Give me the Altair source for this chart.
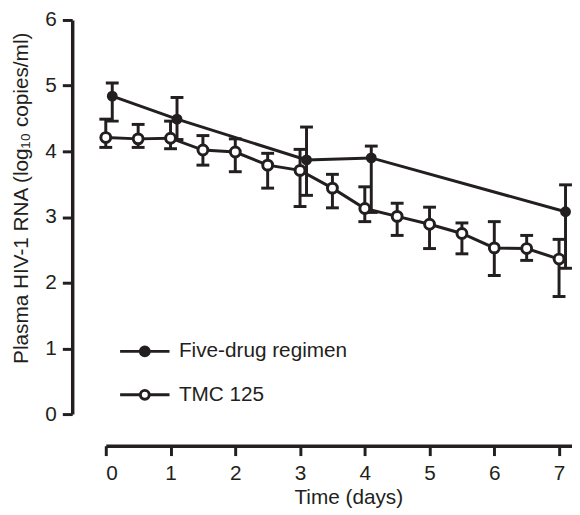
import altair as alt
import pandas as pd

# Five-drug regimen (filled circles)
five_t = [0.1, 1.1, 3.1, 4.1, 7.1]
five_v = [4.84, 4.49, 3.87, 3.90, 3.08]
five_lo = [4.46, 4.18, 3.33, 3.07, 2.22]
five_hi = [5.04, 4.82, 4.37, 4.08, 3.49]

# TMC 125 (open circles)
tmc_t = [0, 0.5, 1, 1.5, 2, 2.5, 3, 3.5, 4, 4.5, 5, 5.5, 6, 6.5, 7]
tmc_v = [4.21, 4.19, 4.20, 4.02, 3.99, 3.79, 3.71, 3.44, 3.13, 3.01, 2.89, 2.75, 2.53, 2.52, 2.36]
tmc_lo = [4.06, 4.06, 4.04, 3.79, 3.69, 3.44, 3.16, 3.14, 2.93, 2.72, 2.52, 2.44, 2.11, 2.34, 1.79]
tmc_hi = [4.49, 4.41, 4.46, 4.24, 4.19, 3.97, 4.03, 3.65, 3.46, 3.21, 3.15, 2.91, 2.93, 2.72, 2.66]

series_names = ["Five-drug regimen", "TMC 125"]
x_ticks = [0, 1, 2, 3, 4, 5, 6, 7]
y_ticks = [0, 1, 2, 3, 4, 5, 6]

rows = []
for t, v, lo, hi in zip(five_t, five_v, five_lo, five_hi):
    rows.append(dict(series=series_names[0], t=t, v=v, lo=lo, hi=hi))
for t, v, lo, hi in zip(tmc_t, tmc_v, tmc_lo, tmc_hi):
    rows.append(dict(series=series_names[1], t=t, v=v, lo=lo, hi=hi))
df = pd.DataFrame(rows)

INK = "#231f20"
FONT = "Liberation Sans"
FS = 21

xs = alt.Scale(domain=[0, 7.2], nice=False, zero=False)
ys = alt.Scale(domain=[0, 6], nice=False)

x_enc = alt.X(
    "t:Q",
    scale=xs,
    axis=alt.Axis(
        values=x_ticks, title="Time (days)", offset=32, labelPadding=7,
        titleX=245.5, titleY=59, titleAlign="center", titleBaseline="alphabetic",
        format="d",
    ),
)
y_enc = alt.Y(
    "v:Q",
    scale=ys,
    axis=alt.Axis(
        values=y_ticks, title="Plasma HIV-1 RNA (log\u2081\u2080 copies/ml)", offset=34,
        labelPadding=6, titleX=-51, titleY=180, titleAlign="center",
        titleBaseline="middle", titleAngle=-90, format="d",
    ),
)

base = alt.Chart(df)

lines = base.mark_line(color=INK, strokeWidth=3).encode(x=x_enc, y=y_enc, detail="series:N")

bars = base.mark_rule(color=INK, strokeWidth=3).encode(
    x=alt.X("t:Q", scale=xs),
    y=alt.Y("lo:Q", scale=ys),
    y2="hi:Q",
)
cap_lo = base.mark_tick(color=INK, orient="horizontal", size=13, thickness=3, opacity=1).encode(
    x=alt.X("t:Q", scale=xs), y=alt.Y("lo:Q", scale=ys)
)
cap_hi = base.mark_tick(color=INK, orient="horizontal", size=13, thickness=3, opacity=1).encode(
    x=alt.X("t:Q", scale=xs), y=alt.Y("hi:Q", scale=ys)
)

PATH = "M-1.163,0L-0.21,0M0.21,0L1.163,0M-0.21,0A0.21,0.21,0,1,1,0.21,0A0.21,0.21,0,1,1,-0.21,0Z"

fill_enc = alt.Fill(
    "series:N",
    scale=alt.Scale(domain=series_names, range=[INK, "white"]),
    legend=alt.Legend(
        title=None, orient="none", legendX=16.5, legendY=312.5, direction="vertical",
        symbolType=PATH, symbolSize=1849, symbolStrokeColor=INK, symbolStrokeWidth=3,
        symbolOpacity=1, labelFont=FONT, labelFontSize=FS, labelColor=INK,
        labelOffset=11.5, rowPadding=10, padding=0, labelLimit=400,
    ),
)

pts_five = base.transform_filter(alt.datum.series == series_names[0]).mark_point(
    shape="circle", filled=True, opacity=1, stroke=INK, strokeWidth=3, size=64
).encode(x=alt.X("t:Q", scale=xs), y=alt.Y("v:Q", scale=ys), fill=fill_enc)

pts_tmc = base.transform_filter(alt.datum.series == series_names[1]).mark_point(
    shape="circle", filled=True, opacity=1, stroke=INK, strokeWidth=3, size=100
).encode(x=alt.X("t:Q", scale=xs), y=alt.Y("v:Q", scale=ys), fill=fill_enc)

chart = (
    alt.layer(lines, bars, cap_lo, cap_hi, pts_five, pts_tmc)
    .properties(
        width=472, height=399,
        padding={"left": 99, "top": 9, "right": 0, "bottom": 96},
        autosize=alt.AutoSizeParams(type="none"),
        background="white",
    )
    .configure_view(stroke=None)
    .configure_axis(
        grid=False, domainColor=INK, domainWidth=3.5, tickColor=INK, tickWidth=3, tickSize=10,
        labelFont=FONT, labelFontSize=FS, labelColor=INK, titleFont=FONT, titleFontSize=FS,
        titleColor=INK, titleFontWeight="normal",
    )
)

chart.save("out.html", embed_options={"renderer": "svg", "actions": False})
